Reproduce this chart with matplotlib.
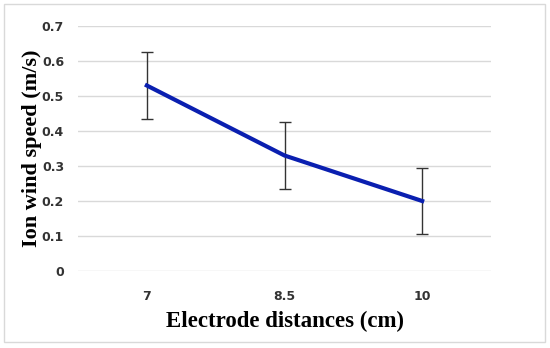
import matplotlib
matplotlib.use('Agg')
import matplotlib.pyplot as plt
from matplotlib.patches import Rectangle

# data
distances = ['7', '8.5', '10']
speed = [0.53, 0.33, 0.20]
err = [0.095, 0.095, 0.095]

fig = plt.figure(figsize=(5.5, 3.48), dpi=100)
ax = fig.add_axes([78 / 550, 1 - 271 / 348, 413 / 550, 245 / 348])

x = range(len(distances))
ax.errorbar(x, speed, yerr=err, color='#0a1fb0', lw=3, ecolor='#333333',
            elinewidth=1, capsize=4, capthick=1, zorder=3)

ax.set_xlim(-0.5, len(distances) - 0.5)
ax.set_ylim(0, 0.7)
ax.set_yticks([0, 0.1, 0.2, 0.3, 0.4, 0.5, 0.6, 0.7])
ax.set_yticklabels(['0', '0.1', '0.2', '0.3', '0.4', '0.5', '0.6', '0.7'])
ax.set_xticks(list(x))
ax.set_xticklabels(distances)
ax.grid(axis='y', color='#d9d9d9', lw=1)
ax.set_axisbelow(True)
for s in ax.spines.values():
    s.set_visible(False)
ax.tick_params(length=0, labelsize=9, colors='#333333', pad=10)
for lab in ax.get_xticklabels() + ax.get_yticklabels():
    lab.set_fontweight('bold')
ax.tick_params(axis='x', pad=14)

ax.set_xlabel('Electrode distances (cm)', family='Liberation Serif', fontsize=16.5,
              fontweight='bold', labelpad=5)
ax.set_ylabel('Ion wind speed (m/s)', family='Liberation Serif', fontsize=16,
              fontweight='bold', labelpad=0)

# light frame around the chart
fig.patches.append(Rectangle((4 / 550, 6 / 348), 541 / 550, 338 / 348,
                             transform=fig.transFigure, fill=False,
                             edgecolor='#d9d9d9', lw=1))

fig.savefig('out.png', dpi=100)
